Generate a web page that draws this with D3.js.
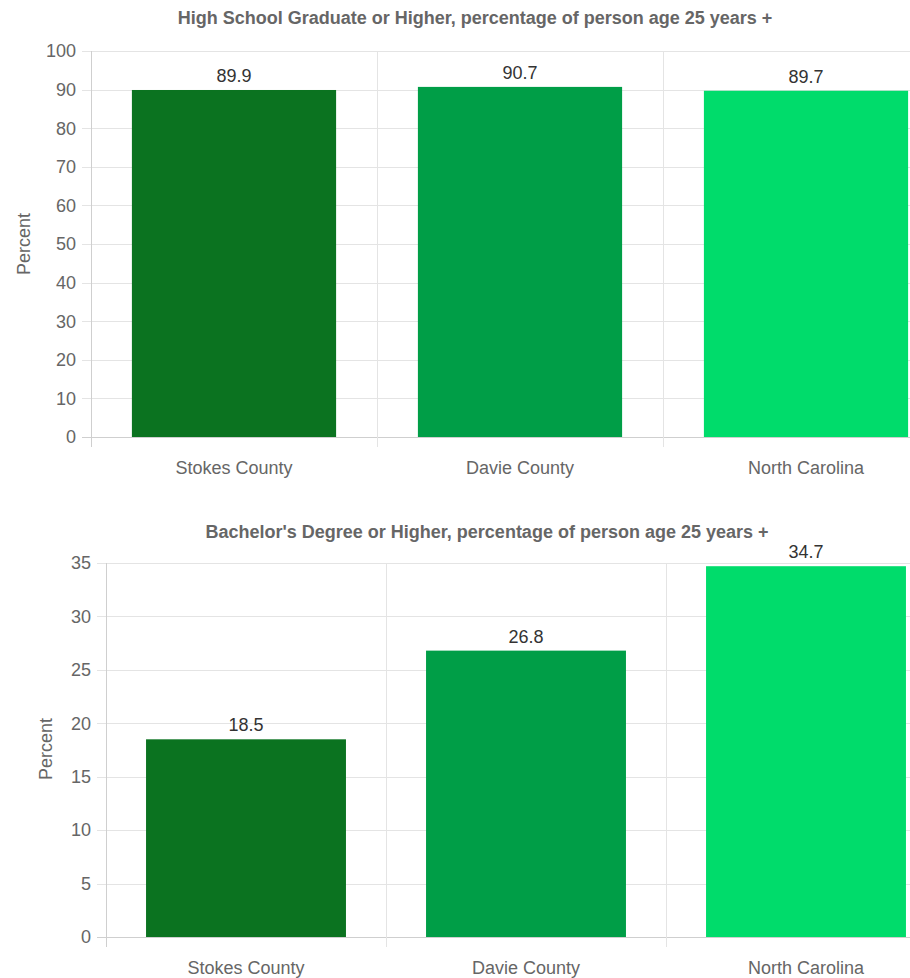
<!DOCTYPE html>
<html>
<head>
<meta charset="utf-8">
<script src="https://cdn.jsdelivr.net/npm/d3@7"></script>
<style>
  html, body { margin: 0; padding: 0; background: #fff; }
  svg { display: block; }
  text { font-family: "Liberation Sans Narrow", "Arial Narrow", "Liberation Sans", Arial, sans-serif; }
</style>
</head>
<body>
<svg id="chart" width="910" height="978"></svg>
<script>
const categories = ["Stokes County", "Davie County", "North Carolina"];
const colors = ["#0b7320", "#009e47", "#00dc6b"];

const hsTitle = "High School Graduate or Higher, percentage of person age 25 years +";
const hsValues = [89.9, 90.7, 89.7];
const hsTicks = [0, 10, 20, 30, 40, 50, 60, 70, 80, 90, 100];

const baTitle = "Bachelor's Degree or Higher, percentage of person age 25 years +";
const baValues = [18.5, 26.8, 34.7];
const baTicks = [0, 5, 10, 15, 20, 25, 30, 35];

const yLabel = "Percent";

const svg = d3.select("#chart");

function drawChart(cfg) {
  const g = svg.append("g");
  const x = d3.scaleBand().domain(categories).range([cfg.left, cfg.right]).padding(0);
  const y = d3.scaleLinear().domain([0, cfg.max]).range([cfg.bottom, cfg.top]);
  const bw = x.bandwidth() * 0.714;

  // horizontal gridlines
  g.selectAll(".hg").data(cfg.ticks).enter().append("line")
    .attr("x1", cfg.left - 9).attr("x2", cfg.right)
    .attr("y1", d => Math.round(y(d)) + 0.5).attr("y2", d => Math.round(y(d)) + 0.5)
    .attr("stroke", d => d === 0 ? "#cfcfcf" : "#e4e4e4").attr("stroke-width", 1);

  // vertical gridlines at category boundaries
  const bounds = categories.map(c => x(c)).concat([cfg.right]);
  g.selectAll(".vg").data(bounds).enter().append("line")
    .attr("x1", d => Math.round(d) + 0.5).attr("x2", d => Math.round(d) + 0.5)
    .attr("y1", cfg.top).attr("y2", cfg.bottom + 10)
    .attr("stroke", (d, i) => i === 0 ? "#cfcfcf" : "#e4e4e4").attr("stroke-width", 1);

  // y tick labels
  g.selectAll(".yt").data(cfg.ticks).enter().append("text")
    .attr("x", cfg.left - 15).attr("y", d => y(d))
    .attr("dy", "0.35em").attr("text-anchor", "end")
    .attr("font-size", 18).attr("fill", "#666")
    .text(d => d);

  // y axis label
  g.append("text")
    .attr("transform", `translate(${cfg.yLabelX},${cfg.yLabelY}) rotate(-90)`)
    .attr("text-anchor", "middle").attr("dy", "0.35em")
    .attr("font-size", 18).attr("fill", "#666")
    .text(yLabel);

  // bars
  g.selectAll(".bar").data(cfg.values).enter().append("rect")
    .attr("x", (d, i) => x(categories[i]) + (x.bandwidth() - bw) / 2)
    .attr("width", bw)
    .attr("y", d => y(d))
    .attr("height", d => y(0) - y(d))
    .attr("fill", (d, i) => colors[i]);

  // value labels
  g.selectAll(".vl").data(cfg.values).enter().append("text")
    .attr("x", (d, i) => x(categories[i]) + x.bandwidth() / 2)
    .attr("y", d => y(d) - 8)
    .attr("text-anchor", "middle")
    .attr("font-size", 18).attr("fill", "#333")
    .text(d => d.toFixed(1));

  // category labels
  g.selectAll(".xl").data(categories).enter().append("text")
    .attr("x", d => x(d) + x.bandwidth() / 2)
    .attr("y", cfg.bottom + 37)
    .attr("text-anchor", "middle")
    .attr("font-size", 18).attr("fill", "#666")
    .text(d => d);

  // title
  g.append("text")
    .attr("x", (cfg.left + cfg.right) / 2 + cfg.titleDx).attr("y", cfg.titleY)
    .attr("text-anchor", "middle")
    .attr("font-size", 18).attr("font-weight", "bold").attr("fill", "#666")
    .text(cfg.title);
}

drawChart({
  title: hsTitle, values: hsValues, ticks: hsTicks, max: 100,
  left: 91, right: 949, top: 51, bottom: 437,
  titleY: 24, titleDx: -45, yLabelX: 24, yLabelY: 244
});

drawChart({
  title: baTitle, values: baValues, ticks: baTicks, max: 35,
  left: 106, right: 946, top: 563, bottom: 937,
  titleY: 538, titleDx: -39, yLabelX: 46, yLabelY: 749
});
</script>
</body>
</html>
